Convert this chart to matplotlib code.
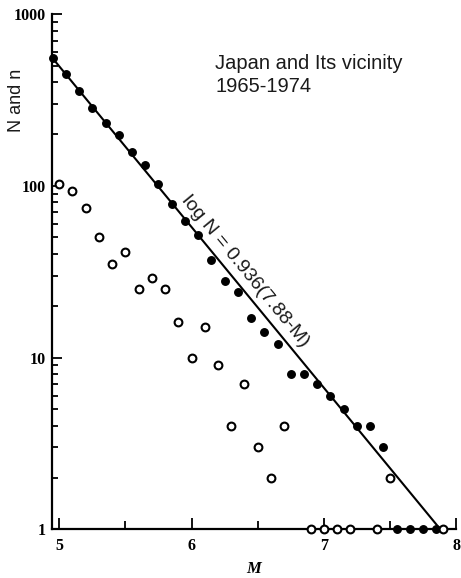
import matplotlib

matplotlib.use("Agg")
import matplotlib.pyplot as plt
import numpy as np
from matplotlib.ticker import FixedLocator, LogLocator, NullFormatter

# cumulative counts N, plotted at the lower edge of each 0.1 magnitude bin
mag_cum = [4.95, 5.05, 5.15, 5.25, 5.35, 5.45, 5.55, 5.65, 5.75, 5.85,
           5.95, 6.05, 6.15, 6.25, 6.35, 6.45, 6.55, 6.65, 6.75, 6.85,
           6.95, 7.05, 7.15, 7.25, 7.35, 7.45, 7.55, 7.65, 7.75, 7.85]
count_cum = [553, 450, 357, 283, 233, 198, 157, 132, 103, 78,
             62, 52, 37, 28, 24, 17, 14, 12, 8, 8,
             7, 6, 5, 4, 4, 3, 1, 1, 1, 1]

# counts n per bin (empty bins left out)
mag_bin = [5.0, 5.1, 5.2, 5.3, 5.4, 5.5, 5.6, 5.7, 5.8, 5.9,
           6.0, 6.1, 6.2, 6.3, 6.4, 6.5, 6.6, 6.7,
           6.9, 7.0, 7.1, 7.2, 7.4, 7.5, 7.9]
count_bin = [103, 93, 74, 50, 35, 41, 25, 29, 25, 16,
             10, 15, 9, 4, 7, 3, 2, 4,
             1, 1, 1, 1, 1, 2, 1]

# Gutenberg-Richter fit: log N = b (a - M)
b_value = 0.936
m_max = 7.88
fit_label = "log N = 0.936(7.88-M)"

x_ticks = [5, 6, 7, 8]
y_ticks = [1, 10, 100, 1000]
region_text = "Japan and Its vicinity\n1965-1974"

fig = plt.figure(figsize=(4.61, 5.78), dpi=100)
ax = fig.add_axes([0.1121, 0.0843, 0.8775, 0.8915])

x_min, x_max = 4.943, 8.0
ax.set_xlim(x_min, x_max)
ax.set_yscale("log")
ax.set_ylim(1, 1000)

fit_m = np.array([x_min, m_max])
fit_n = 10 ** (b_value * (m_max - fit_m))
ax.plot(fit_m, fit_n, color="black", lw=1.5, solid_capstyle="butt", zorder=2)

ax.plot(mag_cum, count_cum, "o", ms=5.4, color="black", clip_on=False, zorder=3)
ax.plot(mag_bin, count_bin, "o", ms=5.6, mfc="white", mec="black", mew=1.5,
        clip_on=False, zorder=4)

for side in ("top", "right"):
    ax.spines[side].set_visible(False)
for side in ("left", "bottom"):
    ax.spines[side].set_linewidth(1.6)

ax.xaxis.set_major_locator(FixedLocator(x_ticks))
ax.xaxis.set_minor_locator(FixedLocator([5.5, 6.5, 7.5]))
ax.set_xticklabels([str(t) for t in x_ticks])
ax.yaxis.set_major_locator(FixedLocator(y_ticks))
ax.yaxis.set_minor_locator(LogLocator(base=10, subs=np.arange(2, 10)))
ax.yaxis.set_minor_formatter(NullFormatter())
ax.set_yticklabels([str(t) for t in y_ticks])

tick_font = dict(family="Liberation Serif", weight="bold", size=11.5)
ax.tick_params(axis="x", which="major", direction="in", length=8, width=1.3, pad=6)
ax.tick_params(axis="x", which="minor", direction="in", length=6, width=1.3)
ax.tick_params(axis="y", which="major", direction="in", length=7, width=1.3, pad=4)
ax.tick_params(axis="y", which="minor", direction="in", length=4, width=1.3)
for lbl in ax.get_xticklabels() + ax.get_yticklabels():
    lbl.set_fontproperties(tick_font)

ax.set_xlabel("M", fontfamily="Liberation Serif", fontstyle="italic",
              fontweight="bold", fontsize=12, labelpad=5)

ax.text(-0.086, 0.833, "N and n", transform=ax.transAxes, rotation=90,
        ha="center", va="center", fontsize=13, family="Liberation Sans",
        color="#1a1a1a")

ax.text(0.404, 0.922, region_text, transform=ax.transAxes, ha="left", va="top",
        fontsize=14.5, family="Liberation Sans", color="#1a1a1a", linespacing=1.25)

# rotate the equation along the fitted line as it appears on screen
p0 = ax.transData.transform((5.5, 10 ** (b_value * (m_max - 5.5))))
p1 = ax.transData.transform((7.0, 10 ** (b_value * (m_max - 7.0))))
angle = np.degrees(np.arctan2(p1[1] - p0[1], p1[0] - p0[0]))
ax.text(6.404, 31.9, fit_label, rotation=angle, rotation_mode="anchor",
        ha="center", va="center", fontsize=14, family="Liberation Sans",
        color="#1a1a1a")

fig.savefig("out.png", dpi=100)
plt.close(fig)
